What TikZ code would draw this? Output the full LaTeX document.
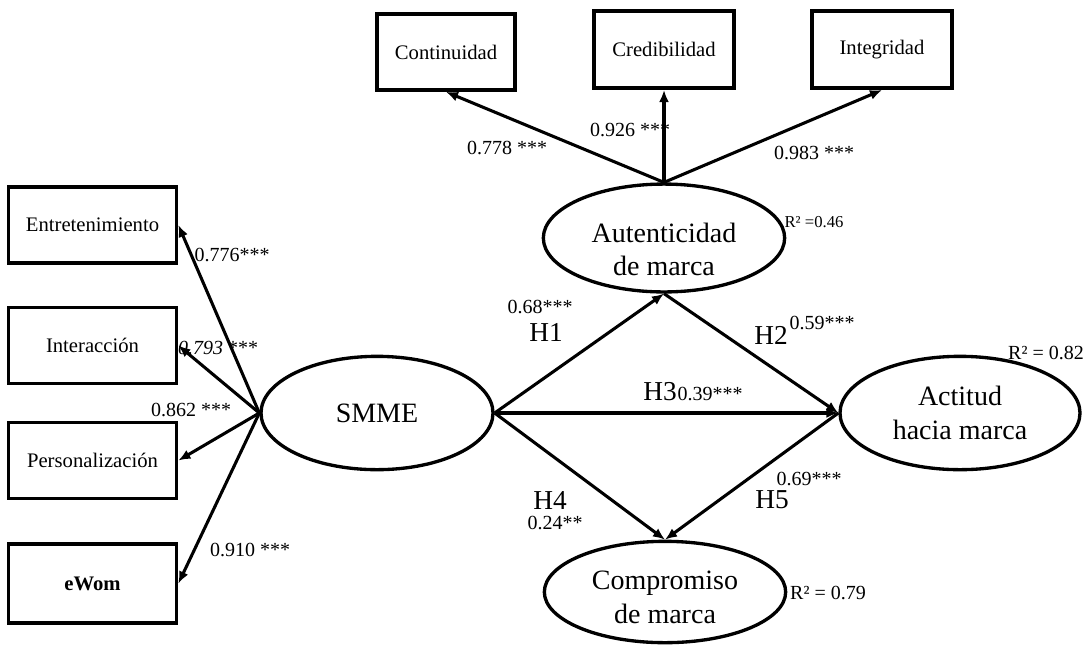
\documentclass[tikz,border=0pt]{standalone}
\usepackage{fontspec}
\setmainfont{Liberation Serif}
\usetikzlibrary{arrows.meta,shapes.geometric}

\begin{document}
\begin{tikzpicture}[x=0.75pt, y=-0.75pt,
	ind/.style={rectangle, draw, line width=2.8pt, minimum width=126pt, minimum height=57pt, inner sep=0pt, font=\fontsize{15.5}{18}\selectfont},
	lat/.style={ellipse, draw, line width=2.5pt, inner sep=0pt, align=center, font=\fontsize{21}{25}\selectfont},
	coef/.style={inner sep=0pt, font=\fontsize{15}{18}\selectfont},
	hyp/.style={inner sep=0pt, font=\fontsize{20.5}{24}\selectfont},
	lnk/.style={line width=2.3pt, -{Latex[length=9pt,width=7.5pt]}}]
	\useasboundingbox (0,0) rectangle (1089,644);

	% latent variables
	\node (smme) at (377, 413)	[lat, minimum width=174pt, minimum height=85pt]	{SMME};
	\node (aut)  at (664, 238)	[lat, minimum width=181pt, minimum height=79pt]	{\rule{0pt}{32pt}Autenticidad\\de marca};
	\node (act)  at (960, 413)	[lat, minimum width=180pt, minimum height=85pt]	{Actitud\\hacia marca};
	\node (comp) at (665, 592)	[lat, minimum width=181pt, minimum height=76pt]	{\rule{0pt}{22pt}Compromiso\\de marca};

	% indicators
	\node (entre) at (92.5, 225)	[ind]	{Entretenimiento};
	\node (inter) at (92.5, 345.5)	[ind]	{Interacción};
	\node (perso) at (92.5, 460.5)	[ind]	{Personalización};
	\node (ewom)  at (92.5, 583.5)	[ind, minimum height=59pt]	{\textbf{eWom}};
	\node (cont)  at (446, 52)	[ind, minimum width=103pt]	{Continuidad};
	\node (cred)  at (664, 49.5)	[ind, minimum width=105pt, minimum height=58pt]	{Credibilidad};
	\node (integ) at (882, 49.5)	[ind, minimum width=105pt, minimum height=58pt]	{Integridad};

	\draw[lnk] (smme.west) -- (entre.east);
	\draw[lnk] (smme.west) -- (inter.east);
	\draw[lnk] (smme.west) -- (perso.east);
	\draw[lnk] (smme.west) -- (ewom.east);
	\draw[lnk] (aut.north) -- (cont.south);
	\draw[lnk] (aut.north) -- (cred.south);
	\draw[lnk] (aut.north) -- (integ.south);

	% structural paths
	\draw[lnk] (smme.east) -- (aut.south);
	\draw[lnk] (aut.south) -- (act.west);
	\draw[lnk] (smme.east) -- (act.west);
	\draw[lnk] (smme.east) -- (comp.north);
	\draw[lnk] (act.west) -- (comp.north);

	% loadings
	\node (l1) at (232, 255)	[coef]	{0.776***};
	\node (l2) at (218, 348)	[coef]	{\textit{0.793} ***};
	\node (l3) at (191, 410)	[coef]	{0.862 ***};
	\node (l4) at (250, 550)	[coef]	{0.910 ***};
	\node (l5) at (507, 148)	[coef]	{0.778 ***};
	\node (l6) at (630, 130)	[coef]	{0.926 ***};
	\node (l7) at (814, 153)	[coef]	{0.983 ***};

	% path coefficients
	\node (c1) at (540, 307)	[coef]	{0.68***};
	\node (h1) at (546, 332)	[hyp]	{H1};
	\node (h2) at (771, 335)	[hyp]	{H2};
	\node (c2) at (822, 323)	[coef]	{0.59***};
	\node (h3) at (660, 392)	[hyp]	{H3};
	\node (c3) at (710, 394)	[coef]	{0.39***};
	\node (h4) at (550, 500)	[hyp]	{H4};
	\node (c4) at (555, 523)	[coef]	{0.24**};
	\node (c5) at (809, 479)	[coef]	{0.69***};
	\node (h5) at (772, 500)	[hyp]	{H5};

	% explained variance
	\node (r1) at (814, 222)	[inner sep=0pt, font=\fontsize{12.5}{15}\selectfont]	{R² =0.46};
	\node (r2) at (1046, 353)	[coef]	{R² = 0.82};
	\node (r3) at (828, 593)	[coef]	{R² = 0.79};
\end{tikzpicture}
\end{document}
